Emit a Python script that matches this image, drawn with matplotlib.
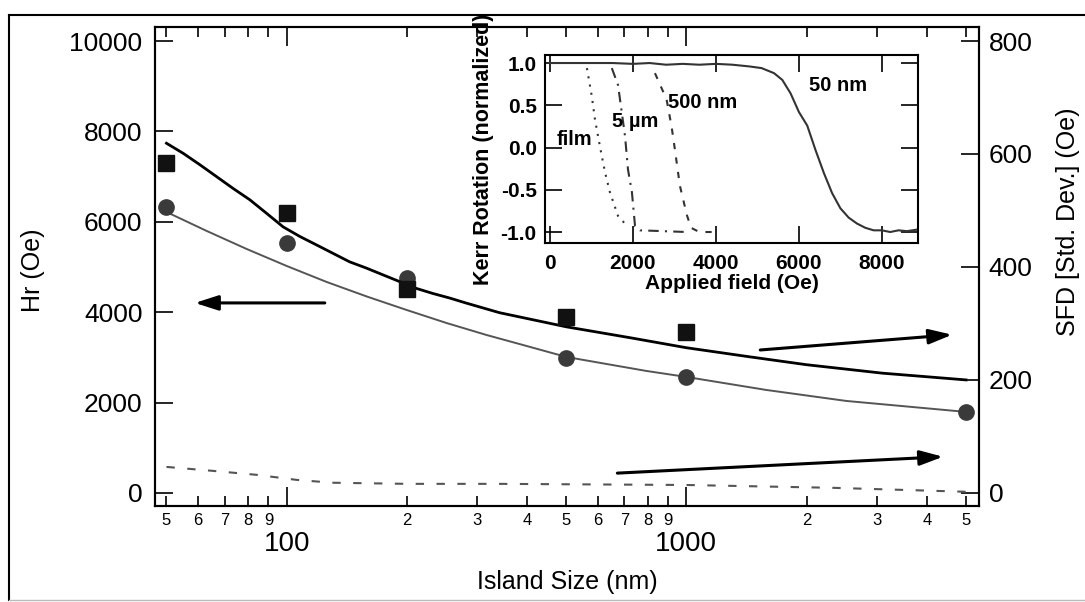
import matplotlib
matplotlib.use("Agg")
import matplotlib.pyplot as plt
from matplotlib.ticker import FixedLocator, FixedFormatter
from matplotlib.lines import Line2D

plt.rcParams['font.family'] = ['Liberation Sans', 'DejaVu Sans']

# main panel: island size (nm)
size_sfd = [50, 100, 200, 500, 1000]
sfd_pts = [584, 496, 361, 311, 285]          # squares, right axis
size_hr = [50, 100, 200, 500, 1000, 5000]
hr_pts = [6330, 5530, 4750, 2990, 2570, 1790]  # circles, left axis

fit_sfd_x = [50, 55.1, 60.6, 66.7, 73.4, 80.8, 89.0, 97.9, 107.8, 118.7, 130.6, 143.7, 158.2,
             174.1, 191.7, 211, 232.2, 255.6, 281.4, 340.8, 501, 732.8, 1000, 1437, 1995, 3090, 5012]
fit_sfd_y = [619, 601, 581, 560, 539, 519, 495, 471, 454, 439, 424, 409, 398,
             386, 374, 362, 353, 345, 336, 319, 294, 274, 257, 241, 227, 212, 200]
fit_hr_x = [50, 63.1, 79.4, 100, 125.9, 158.5, 199.5, 251, 316, 398, 501, 631, 794, 1000, 1585, 2512, 5012]
fit_hr_y = [6216, 5795, 5397, 5021, 4667, 4347, 4048, 3760, 3495, 3252, 3008, 2853, 2699, 2566, 2278, 2035, 1792]
dash_x = [50, 65.3, 84, 106, 130, 200, 341, 1000, 2325, 5000]
dash_y = [46, 39, 32, 23, 18, 16, 16, 14, 9, 2]

# inset: Kerr loops
f_50 = [0, 500, 1000, 1500, 2000, 2400, 2800, 3200, 3600, 4000, 4400, 4800, 5100, 5400, 5600,
        5800, 6000, 6200, 6400, 6600, 6800, 7000, 7200, 7400, 7600, 7800, 8000, 8200, 8400, 8600, 8870]
k_50 = [1.0, 1.0, 1.0, 1.0, 0.99, 1.0, 0.98, 0.99, 0.98, 0.99, 0.98, 0.96, 0.94, 0.88, 0.80,
        0.64, 0.42, 0.26, -0.03, -0.30, -0.54, -0.72, -0.83, -0.90, -0.95, -0.98, -0.98, -1.0, -0.98, -0.99, -0.97]
f_500 = [2530, 2810, 2930, 3010, 3130, 3300, 3400, 3600, 3980]
k_500 = [0.88, 0.57, 0.25, -0.02, -0.45, -0.80, -0.95, -1.0, -1.0]
f_5um = [1490, 1640, 1810, 1880, 1975, 2050, 2170, 3300]
k_5um = [0.94, 0.74, 0.13, -0.26, -0.53, -0.93, -0.98, -1.0]
f_film = [890, 1010, 1085, 1205, 1325, 1445, 1640, 1880]
k_film = [0.94, 0.60, 0.33, 0.01, -0.29, -0.53, -0.81, -0.94]

fig = plt.figure(figsize=(10.85, 6.02), dpi=100)

# outer frame
fig.add_artist(Line2D([9/1085, 9/1085], [1-600/602, 1-15/602], color='black', lw=1.5, transform=fig.transFigure))
fig.add_artist(Line2D([9/1085, 1.0], [1-15/602, 1-15/602], color='black', lw=1.5, transform=fig.transFigure))
fig.add_artist(Line2D([9/1085, 1.0], [1-600/602, 1-600/602], color='#bbbbbb', lw=1.0, transform=fig.transFigure))

ax = fig.add_axes([155/1085, 1-506/602, 824/1085, 479/602])
ax2 = ax.twinx()
ax.set_xscale('log')
ax.set_xlim(46.8, 5400)
ax.set_ylim(-290, 10310)
ax2.set_ylim(-290*0.08, 10310*0.08)

ax.plot(fit_hr_x, fit_hr_y, color='#555555', lw=1.4, zorder=3)
ax.plot(size_hr, hr_pts, 'o', color='#3a3a3a', ms=11, zorder=4)
ax2.plot(fit_sfd_x, fit_sfd_y, color='black', lw=2.0, zorder=3)
ax2.plot(size_sfd, sfd_pts, 's', color='#111111', ms=11.5, zorder=4)
ax2.plot(dash_x, dash_y, color='#555555', lw=1.5, ls=(0, (4, 6)), zorder=3)

arw = dict(arrowstyle='-|>,head_length=1.4,head_width=0.45', color='black', lw=2.2, shrinkA=0, shrinkB=0)
ax.annotate('', xy=(58.9, 4204), xytext=(124.5, 4204), arrowprops=arw)
ax2.annotate('', xy=(4625, 280), xytext=(1531, 253), arrowprops=arw)
ax2.annotate('', xy=(4390, 64), xytext=(672, 35), arrowprops=arw)

ax.xaxis.set_major_locator(FixedLocator([100, 1000]))
ax.xaxis.set_major_formatter(FixedFormatter(['100', '1000']))
minor = [50, 60, 70, 80, 90, 200, 300, 400, 500, 600, 700, 800, 900, 2000, 3000, 4000, 5000]
ax.xaxis.set_minor_locator(FixedLocator(minor))
ax.xaxis.set_minor_formatter(FixedFormatter([str(m)[0] for m in minor]))
ax.set_yticks([0, 2000, 4000, 6000, 8000, 10000])
ax2.set_yticks([0, 200, 400, 600, 800])

ax.tick_params(axis='x', which='major', direction='in', length=14, width=1.2, top=True, labelsize=20, pad=18)
ax.tick_params(axis='x', which='minor', direction='in', length=7, width=1.2, top=True, labelsize=12, pad=5)
ax.tick_params(axis='y', which='major', direction='in', length=13, width=1.2, labelsize=19, pad=9, right=False)
ax2.tick_params(axis='y', which='major', direction='in', length=13, width=1.2, labelsize=19, pad=7)
for a in (ax, ax2):
    for s in a.spines.values():
        s.set_linewidth(1.5)

ax.set_xlabel('Island Size (nm)', fontsize=18, labelpad=9)
fig.text(33/1085, 1-270/602, 'Hr (Oe)', fontsize=18, rotation=90, ha='center', va='center')
fig.text(1068/1085, 1-222/602, 'SFD [Std. Dev.] (Oe)', fontsize=18, rotation=90, ha='center', va='center')

# inset
ins = fig.add_axes([545/1085, 1-243/602, 373/1085, 188/602])
ins.set_xlim(-120, 8870)
ins.set_ylim(-1.13, 1.095)
ins.plot(f_50, k_50, color='#333333', lw=1.5)
ins.plot(f_500, k_500, color='#333333', lw=1.5, ls=(0, (3, 4)))
ins.plot(f_5um, k_5um, color='#333333', lw=1.5, ls=(0, (5, 3, 1, 3)))
ins.plot(f_film, k_film, color='#333333', lw=1.5, ls=(0, (1, 3)))
ins.set_xticks([0, 2000, 4000, 6000, 8000])
ins.set_yticks([-1.0, -0.5, 0.0, 0.5, 1.0])
ins.set_yticklabels(['-1.0', '-0.5', '0.0', '0.5', '1.0'])
ins.tick_params(direction='in', length=12, width=1.2, top=True, right=True, labelsize=15)
ins.tick_params(axis='x', pad=8)
ins.tick_params(axis='y', pad=6)
for lbl in ins.get_xticklabels() + ins.get_yticklabels():
    lbl.set_fontweight('bold')
for s in ins.spines.values():
    s.set_linewidth(1.5)
ins.set_xlabel('Applied field (Oe)', fontsize=15, fontweight='bold', labelpad=1)
ins.set_ylabel('Kerr Rotation (normalized)', fontsize=15.5, fontweight='bold', labelpad=5)
tk = dict(fontsize=14.5, fontweight='bold', ha='center', va='center')
ins.text(600, 0.094, 'film', **tk)
ins.text(2050, 0.31, '5 µm', **tk)
ins.text(3690, 0.53, '500 nm', **tk)
ins.text(6940, 0.73, '50 nm', **tk)

fig.savefig('out.png', dpi=100)
